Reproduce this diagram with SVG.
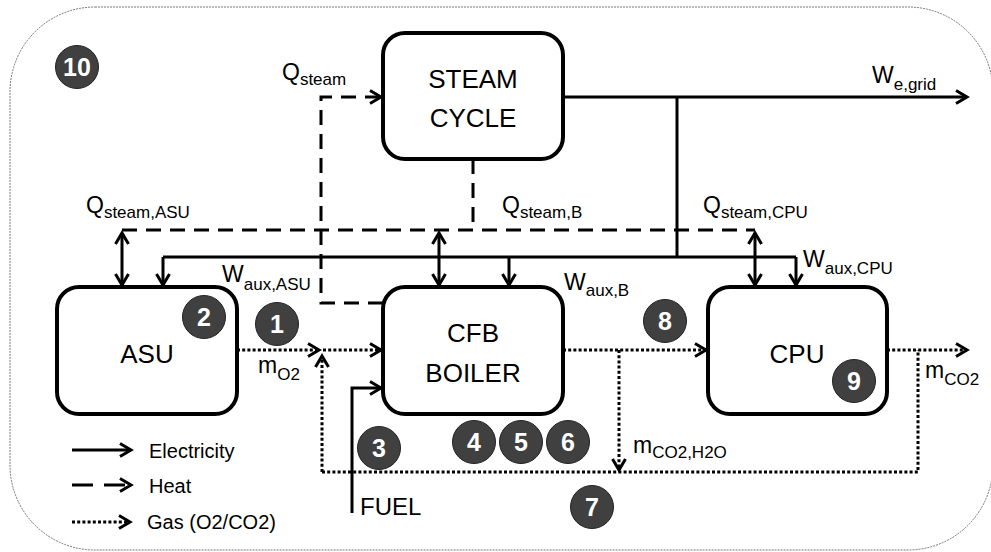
<svg xmlns="http://www.w3.org/2000/svg" width="991" height="552" viewBox="0 0 991 552">
  <style>
    text { font-family: "Liberation Sans", Arial, sans-serif; fill: #000; }
    .box { fill: #fff; stroke: #000; stroke-width: 4; }
    .boxtxt { font-size: 26px; text-anchor: middle; }
    .lbl { font-size: 23px; }
    .sub { font-size: 17px; }
    .elec { fill: none; stroke: #000; stroke-width: 3; }
    .heat { fill: none; stroke: #000; stroke-width: 3; stroke-dasharray: 15 9; }
    .gas { fill: none; stroke: #000; stroke-width: 3; stroke-dasharray: 3 2.2; }
    .badge circle { fill: #404040; stroke: #222; stroke-width: 1; }
    .badge text { fill: #fff; font-size: 25px; font-weight: bold; text-anchor: middle; }
    .leg { font-size: 20px; }
  </style>
  <defs>
    <marker id="ah" markerUnits="userSpaceOnUse" markerWidth="20" markerHeight="20" viewBox="-14 -10 16 20" refX="0" refY="0" orient="auto-start-reverse">
      <path d="M-11,-6.5 L0,0 L-11,6.5" fill="none" stroke="#000" stroke-width="3" stroke-dasharray="none"/>
    </marker>
  </defs>

  <!-- system boundary -->
  <rect id="boundary" x="10" y="7" width="983" height="543" rx="85" ry="85" fill="none" stroke="#555" stroke-width="0.8" stroke-dasharray="2 1"/>

  <!-- connectors -->
  <g id="connectors">
    <!-- electricity -->
    <path class="elec" d="M563,97 H967" marker-end="url(#ah)"/>
    <path class="elec" d="M677,97 V257"/>
    <path class="elec" d="M163,257 H796"/>
    <path class="elec" d="M163,257 V285" marker-end="url(#ah)"/>
    <path class="elec" d="M509,257 V285" marker-end="url(#ah)"/>
    <path class="elec" d="M796,257 V285" marker-end="url(#ah)"/>
    <path class="elec" d="M122,233 V285" marker-start="url(#ah)" marker-end="url(#ah)"/>
    <path class="elec" d="M439,233 V285" marker-start="url(#ah)" marker-end="url(#ah)"/>
    <path class="elec" d="M755,233 V285" marker-start="url(#ah)" marker-end="url(#ah)"/>
    <path class="elec" d="M352,513 V388 H381" marker-end="url(#ah)"/>
    <!-- heat -->
    <path class="heat" d="M122,230 H755"/>
    <path class="heat" d="M473,159 V230"/>
    <path class="heat" d="M383,303 H321 V97 H381" marker-end="url(#ah)"/>
    <!-- gas -->
    <path class="gas" d="M237,350 H319" marker-end="url(#ah)"/>
    <path class="gas" d="M323,350 H381" marker-end="url(#ah)"/>
    <path class="gas" d="M322,472 V356" marker-end="url(#ah)"/>
    <path class="gas" d="M322,472 H918 V350"/>
    <path class="gas" d="M563,350 H706" marker-end="url(#ah)"/>
    <path class="gas" d="M619,350 V470" marker-end="url(#ah)"/>
    <path class="gas" d="M887,350 H967" marker-end="url(#ah)"/>
  </g>

  <!-- nodes -->
  <g id="steam_cycle">
    <rect class="box" x="383" y="33" width="180" height="126" rx="22"/>
    <text class="boxtxt" x="473" y="88">STEAM</text>
    <text class="boxtxt" x="473" y="127">CYCLE</text>
  </g>
  <g id="asu">
    <rect class="box" x="57" y="287" width="180" height="127" rx="22"/>
    <text class="boxtxt" x="147" y="363">ASU</text>
  </g>
  <g id="cfb_boiler">
    <rect class="box" x="383" y="287" width="180" height="127" rx="22"/>
    <text class="boxtxt" x="473" y="342">CFB</text>
    <text class="boxtxt" x="473" y="382">BOILER</text>
  </g>
  <g id="cpu">
    <rect class="box" x="708" y="287" width="179" height="127" rx="22"/>
    <text class="boxtxt" x="797" y="363">CPU</text>
  </g>

  <!-- labels -->
  <g id="labels">
    <text class="lbl" x="282" y="80">Q<tspan class="sub" dy="5">steam</tspan></text>
    <text class="lbl" x="86" y="213">Q<tspan class="sub" dy="5">steam,ASU</tspan></text>
    <text class="lbl" x="502" y="213">Q<tspan class="sub" dy="5">steam,B</tspan></text>
    <text class="lbl" x="703" y="213">Q<tspan class="sub" dy="5">steam,CPU</tspan></text>
    <text class="lbl" x="872" y="83">W<tspan class="sub" dy="7">e,grid</tspan></text>
    <text class="lbl" x="222" y="282">W<tspan class="sub" dy="8">aux,ASU</tspan></text>
    <text class="lbl" x="564" y="290">W<tspan class="sub" dy="6">aux,B</tspan></text>
    <text class="lbl" x="803" y="267">W<tspan class="sub" dy="7">aux,CPU</tspan></text>
    <text class="lbl" x="258" y="373">m<tspan class="sub" dy="7">O2</tspan></text>
    <text class="lbl" x="925" y="378">m<tspan class="sub" dy="7">CO2</tspan></text>
    <text class="lbl" x="633" y="453">m<tspan class="sub" dy="5">CO2,H2O</tspan></text>
    <text class="lbl" x="360" y="515" style="font-size:24px">FUEL</text>
  </g>

  <!-- numbered markers -->
  <g id="badge_10" class="badge"><circle cx="77" cy="67" r="21.5"/><text x="77" y="76">10</text></g>
  <g id="badge_1" class="badge"><circle cx="277" cy="324" r="21.5"/><text x="277" y="333">1</text></g>
  <g id="badge_2" class="badge"><circle cx="204" cy="317" r="21.5"/><text x="204" y="326">2</text></g>
  <g id="badge_3" class="badge"><circle cx="379" cy="448" r="21.5"/><text x="379" y="457">3</text></g>
  <g id="badge_4" class="badge"><circle cx="474" cy="442" r="21.5"/><text x="474" y="451">4</text></g>
  <g id="badge_5" class="badge"><circle cx="521" cy="442" r="21.5"/><text x="521" y="451">5</text></g>
  <g id="badge_6" class="badge"><circle cx="568" cy="442" r="21.5"/><text x="568" y="451">6</text></g>
  <g id="badge_7" class="badge"><circle cx="592" cy="507" r="21.5"/><text x="592" y="516">7</text></g>
  <g id="badge_8" class="badge"><circle cx="665" cy="321" r="21.5"/><text x="665" y="330">8</text></g>
  <g id="badge_9" class="badge"><circle cx="854" cy="381" r="21.5"/><text x="854" y="390">9</text></g>

  <!-- legend -->
  <g id="legend">
    <path class="elec" d="M72,450 H131" marker-end="url(#ah)"/>
    <text class="leg" x="149" y="458">Electricity</text>
    <path class="heat" d="M72,485 H131" style="stroke-dasharray:21 11" marker-end="url(#ah)"/>
    <text class="leg" x="149" y="493">Heat</text>
    <path class="gas" d="M72,522 H130" marker-end="url(#ah)"/>
    <text class="leg" x="147" y="529">Gas (O2/CO2)</text>
  </g>
</svg>
